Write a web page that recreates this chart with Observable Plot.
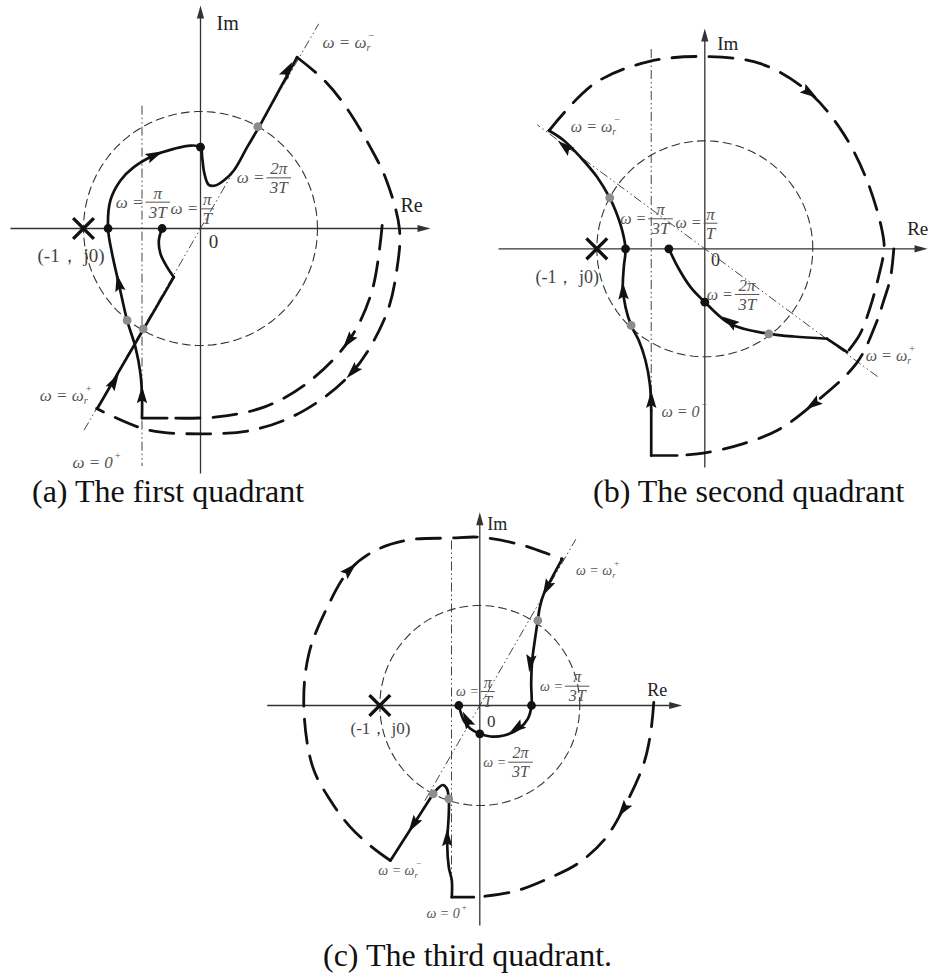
<!DOCTYPE html>
<html>
<head>
<meta charset="utf-8">
<script src="https://cdn.jsdelivr.net/npm/d3@7"></script>
<script src="https://cdn.jsdelivr.net/npm/@observablehq/plot@0.6"></script>
<style>
  body { margin: 0; background: #fff; }
  #fig { position: relative; width: 928px; height: 973px; background: #fff; overflow: hidden;
         font-family: "Liberation Serif", "Times New Roman", serif; }
  .panel { position: absolute; }
  .panel text { font-family: "Liberation Serif", "Times New Roman", serif; }
  .cap { position: absolute; font-size: 32px; line-height: 1; color: #111; white-space: nowrap; }
</style>
</head>
<body>
<div id="fig">
  <div class="cap" style="left:32px;top:475px">(a) The first quadrant</div>
  <div class="cap" style="left:593px;top:475px">(b) The second quadrant</div>
  <div class="cap" style="left:323px;top:939px">(c) The third quadrant.</div>
</div>
<script>
// ---------- (a) first quadrant: Nyquist branches in the complex plane [Re, Im] ----------
const aBranches = [
  [ // ω = 0⁺ → ω_r⁻
    [[-0.285, -1.62], [-0.5, -1.62]],
    [[-0.5, -1.62], [-0.5, -1.43], [-0.513, -1.242], [-0.556, -1.014], [-0.627, -0.786], [-0.698, -0.473],
     [-0.755, -0.217], [-0.79, 0], [-0.77, 0.24], [-0.684, 0.41], [-0.57, 0.524], [-0.4, 0.624],
     [-0.228, 0.681], [-0.085, 0.709], [0, 0.695], [0.014, 0.61], [0.034, 0.467], [0.071, 0.373],
     [0.128, 0.368], [0.199, 0.41], [0.285, 0.496], [0.399, 0.695], [0.5, 0.866]],
    [[0.5, 0.866], [0.826, 1.464]]
  ],
  [ // ω_r⁺ → π/T
    [[-0.883, -1.541], [-0.228, -0.416]],
    [[-0.228, -0.416], [-0.285, -0.33], [-0.342, -0.216], [-0.356, -0.103], [-0.328, 0]]
  ]
];
const aBlack = [[-0.79, 0], [-0.328, 0], [0, 0.695]];
const aGray = [[0.49, 0.87], [-0.627, -0.786], [-0.49, -0.858]];
// infinite-radius arcs as [angle°, radius] keypoints, traversed clockwise
const aResArc = [[60.6, 1.68], [50, 1.65], [40, 1.62], [25, 1.61], [15, 1.64], [0, 1.7], [-12, 1.715],
  [-25, 1.75], [-43, 1.786], [-60, 1.79], [-75, 1.78], [-90, 1.755], [-105, 1.78], [-120, 1.776]];
const aZeroArc = [[1, 1.553], [-20, 1.56], [-37, 1.589], [-55, 1.605], [-70, 1.62], [-85, 1.617], [-100, 1.645]];
const aArrows = [[-0.5, -1.43, 0], [-0.698, -0.473, -12], [-0.399, 0.624, 65], [0.741, 1.35, 30], [-0.741, -1.314, 30]];
const aArcArrows = [[-43, 1.786], [-37, 1.589]];
const aVertical = [-0.5, 1.05, -2.03];
const aDiagonal = [60, -1.99, 2.02];
const aReAxis = [-1.624, 1.966];
const aImAxis = [-2.094, 1.906];
const aOmega = [[1.419, 1.59, "ω = ω", "r", "−"], [-0.997, -1.427, "ω = ω", "r", "+"], [-0.749, -1.997, "ω = 0", "", "+"]];
const aFrac = [[-0.365, 0.225, "π", "3T"], [0.057, 0.168, "π", "T"], [0.669, 0.433, "2π", "3T"]];
const aAxisText = [[0.137, 1.752, "Im"], [1.709, 0.197, "Re"]];
const aOrigin = [[0.111, -0.111, "0"]];
const aCritical = [[-1.393, -0.231, "(-1， j0)"]];

// ---------- (b) second quadrant ----------
const bBranches = [
  [ // ω = 0⁻ → ω_r⁻
    [[-0.256, -1.914], [-0.496, -1.914]],
    [[-0.496, -1.914], [-0.496, -1.497]],
    [[-0.496, -1.497], [-0.509, -1.25], [-0.549, -1.034], [-0.611, -0.849], [-0.682, -0.71], [-0.734, -0.54],
     [-0.759, -0.355], [-0.75, -0.17], [-0.734, 0], [-0.765, 0.17], [-0.827, 0.355], [-0.88, 0.472],
     [-0.996, 0.663], [-1.151, 0.848], [-1.305, 1.003], [-1.444, 1.095]]
  ],
  [ // ω_r⁺ → π/T
    [[1.318, -0.957], [1.133, -0.833]],
    [[1.133, -0.833], [0.824, -0.812], [0.593, -0.787], [0.361, -0.741], [0.207, -0.679], [0, -0.494],
     [-0.132, -0.355], [-0.241, -0.185], [-0.333, 0]]
  ]
];
const bBlack = [[-0.734, 0], [-0.333, 0], [0, -0.494]];
const bGray = [[-0.88, 0.472], [-0.682, -0.71], [0.593, -0.787]];
const bResArc = [[142.8, 1.81], [124, 1.84], [107, 1.81], [90, 1.78], [73, 1.79], [56, 1.74], [40, 1.67],
  [23, 1.63], [6, 1.65], [0, 1.66], [-9, 1.63], [-20, 1.625], [-29, 1.64], [-36, 1.63]];
const bZeroArc = [[0, 1.75], [-9, 1.74], [-16, 1.725], [-24, 1.73], [-37, 1.76], [-55, 1.754], [-68, 1.81],
  [-79, 1.84], [-90, 1.89], [-97.6, 1.93]];
const bArrows = [[-0.496, -1.405, 0], [-0.756, -0.401, -3], [-1.29, 0.94, -50], [0.238, -0.679, -56]];
const bArcArrows = [[56.4, 1.74], [-54.9, 1.754]];
const bVertical = [-0.496, 1.85, -1.94];
const bDiagonal = [143.5, -1.99, 1.93];
const bReAxis = [-1.91, 2.062];
const bImAxis = [-2.025, 2.04];
const bOmega = [[-0.857, 1.126, "ω = ω", "r", "−"], [1.874, -0.988, "ω = ω", "r", "+"], [-0.049, -1.513, "ω = 0", "", "−"]];
const bFrac = [[-0.41, 0.278, "π", "3T"], [0.053, 0.237, "π", "T"], [0.392, -0.423, "2π", "3T"]];
const bAxisText = [[0.115, 1.9, "Im"], [1.874, 0.188, "Re"]];
const bOrigin = [[0.099, -0.108, "0"]];
const bCritical = [[-1.568, -0.263, "(-1， j0)"]];

// ---------- (c) third quadrant ----------
const cBranches = [
  [ // ω_r⁺ → π/T
    [[0.824, 1.467], [0.707, 1.25], [0.64, 1.117], [0.6, 0.983], [0.58, 0.85], [0.55, 0.65], [0.524, 0.45],
     [0.514, 0.217], [0.517, 0], [0.48, -0.133], [0.39, -0.233], [0.24, -0.3], [0.107, -0.31], [0, -0.283],
     [-0.093, -0.233], [-0.16, -0.15], [-0.21, 0]]
  ],
  [ // ω = 0⁺ → ω_r⁻
    [[-0.06, -1.917], [-0.28, -1.917]],
    [[-0.28, -1.917], [-0.28, -1.75], [-0.31, -1.617], [-0.326, -1.383], [-0.31, -1.083], [-0.31, -0.933],
     [-0.33, -0.83], [-0.37, -0.795], [-0.42, -0.83], [-0.466, -0.883]],
    [[-0.466, -0.883], [-0.893, -1.55]]
  ]
];
const cBlack = [[0.517, 0], [0, -0.283], [-0.21, 0]];
const cGray = [[0.58, 0.85], [-0.31, -0.933], [-0.466, -0.883]];
const cResArc = [[240, 1.79], [233, 1.78], [223, 1.776], [212, 1.77], [200, 1.78], [180, 1.76], [163, 1.786],
  [147, 1.815], [134, 1.88], [124, 1.87], [113, 1.8], [100, 1.7], [90, 1.683], [77, 1.66], [67, 1.66], [60.7, 1.68]];
const cZeroArc = [[1, 1.74], [-9, 1.73], [-20, 1.74], [-36, 1.77], [-47, 1.83], [-58, 1.86], [-68, 1.86],
  [-79, 1.89], [-89, 1.91], [-91.8, 1.918]];
const cArrows = [[0.674, 1.183, -153], [0.507, 0.433, -173], [0.374, -0.223, -125], [-0.126, -0.15, -27],
  [-0.326, -1.333, 0], [-0.659, -1.183, -147]];
const cArcArrows = [[134, 1.88], [-35.7, 1.772]];
const cVertical = [-0.283, 1.65, -1.92];
const cDiagonal = [60, -1.1, 1.92];
const cReAxis = [-2.126, 2.024];
const cImAxis = [-2.2, 1.933];
const cOmega = [[1.324, 1.35, "ω = ω", "r", "+"], [-0.653, -1.65, "ω = ω", "r", "−"], [-0.2, -2.083, "ω = 0", "", "+"]];
const cFrac = [[0.08, 0.14, "π", "T"], [0.974, 0.193, "π", "3T"], [0.407, -0.567, "2π", "3T"]];
const cAxisText = [[0.074, 1.817, "Im"], [1.674, 0.15, "Re"]];
const cOrigin = [[0.115, -0.16, "0"]];
const cCritical = [[-1.293, -0.233, "(-1， j0)"]];

// ---------- drawing ----------
const SERIF = '"Liberation Serif", "Times New Roman", serif';
const rad = deg => deg * Math.PI / 180;
const polar = ([deg, r]) => [r * Math.cos(rad(deg)), r * Math.sin(rad(deg))];
const unitCircle = d3.range(0, 361, 4).map(deg => polar([deg, 1]));

// filled arrowhead pointing up, centred on the curve point
const headShape = {
  draw(ctx) { ctx.moveTo(0, -10); ctx.lineTo(5.2, 7.5); ctx.lineTo(0, 4.5); ctx.lineTo(-5.2, 7.5); ctx.closePath(); }
};
// axis arrowhead with its tip at the anchor
const axisHeadShape = {
  draw(ctx) { ctx.moveTo(0, 0); ctx.lineTo(3.6, 13); ctx.lineTo(-3.6, 13); ctx.closePath(); }
};

function panel(f, d) {
  const xd = [-f.ox / f.s, (f.w - f.ox) / f.s];
  const yd = [(f.oy - f.h) / f.s, f.oy / f.s];
  const X = p => p[0], Y = p => p[1];

  const branchPts = d.branches.flat().flatMap((piece, i) => piece.map(([x, y]) => ({x, y, z: i})));
  const arcPts = [d.resArc, d.zeroArc].flatMap((arc, i) => arc.map(k => {
    const [x, y] = polar(k); return {x, y, z: i};
  }));
  const arrows = d.arrows.concat(d.arcArrows.map(([deg, r]) => [...polar([deg, r]), -180 - deg]));
  const [dA, dB] = [polar([d.diagonal[0], d.diagonal[1]]), polar([d.diagonal[0], d.diagonal[2]])];
  const guides = [
    {x1: d.vertical[0], y1: d.vertical[1], x2: d.vertical[0], y2: d.vertical[2]},
    {x1: dA[0], y1: dA[1], x2: dB[0], y2: dB[1]}
  ];
  const axes = [
    {x1: d.reAxis[0], y1: 0, x2: d.reAxis[1] - 10 / f.s, y2: 0},
    {x1: 0, y1: d.imAxis[0], x2: 0, y2: d.imAxis[1] - 10 / f.s}
  ];
  const axisHeads = [[d.reAxis[1], 0, 90], [0, d.imAxis[1], 0]];
  const hw = fr => (Math.max(fr[2].length, fr[3].length) * 5.4 + 1.5) / f.s;

  const plot = Plot.plot({
    width: f.w, height: f.h, margin: 0,
    x: {domain: xd, axis: null},
    y: {domain: yd, axis: null},
    style: {background: "transparent", overflow: "visible", fontFamily: SERIF},
    marks: [
      Plot.line(unitCircle, {x: X, y: Y, stroke: "#333", strokeWidth: 1.1, strokeDasharray: "8,5"}),
      Plot.link(guides, {x1: "x1", y1: "y1", x2: "x2", y2: "y2", stroke: "#444", strokeWidth: 1,
        strokeDasharray: "9,3,1.5,3,1.5,3"}),
      Plot.link(axes, {x1: "x1", y1: "y1", x2: "x2", y2: "y2", stroke: "#333", strokeWidth: 1.3}),
      Plot.dot(axisHeads, {x: X, y: Y, rotate: p => p[2], symbol: axisHeadShape, r: 5, fill: "#333", stroke: "none"}),
      Plot.line(arcPts, {x: "x", y: "y", z: "z", curve: "catmull-rom", stroke: "#111", strokeWidth: 2.8,
        strokeDasharray: "24,13"}),
      Plot.line(branchPts, {x: "x", y: "y", z: "z", curve: "catmull-rom", stroke: "#111", strokeWidth: 2.7,
        strokeLinecap: "round", strokeLinejoin: "round"}),
      Plot.dot(d.black, {x: X, y: Y, r: 4.4, fill: "#111", stroke: "none"}),
      Plot.dot(d.gray, {x: X, y: Y, r: 4.4, fill: "#8c8c8c", stroke: "none"}),
      Plot.dot([[-1, 0]], {x: X, y: Y, symbol: "times", r: 9.5, stroke: "#111", strokeWidth: 3.4}),
      Plot.dot(arrows, {x: X, y: Y, rotate: p => p[2], symbol: headShape, r: 5, fill: "#111", stroke: "none"}),
      // axis names, origin and critical point
      Plot.text(d.axisText, {x: X, y: Y, text: p => p[2], textAnchor: "start", fontSize: f.axis,
        fontFamily: SERIF, fill: "#222"}),
      Plot.text(d.origin, {x: X, y: Y, text: p => p[2], fontSize: f.axis - 1, fontFamily: SERIF, fill: "#333"}),
      Plot.text(d.critical, {x: X, y: Y, text: p => p[2], textAnchor: "start", fontSize: f.axis - 1,
        fontFamily: SERIF, fill: "#444"}),
      // ω = ω_r± and ω = 0± labels
      Plot.text(d.omega, {x: X, y: Y, text: p => p[2], textAnchor: "end", fontSize: f.label,
        fontFamily: SERIF, fontStyle: "italic", fill: "#555"}),
      Plot.text(d.omega, {x: X, y: Y, text: p => p[3], textAnchor: "start", dx: 0, dy: 5, fontSize: f.label * 0.6,
        fontFamily: SERIF, fontStyle: "italic", fill: "#555"}),
      Plot.text(d.omega, {x: X, y: Y, text: p => p[4], textAnchor: "start", dx: 2, dy: -7, fontSize: f.label * 0.62,
        fontFamily: SERIF, fill: "#555"}),
      // ω = fraction labels
      Plot.text(d.frac, {x: p => p[0] - hw(p), y: Y, text: () => "ω =", textAnchor: "end", dx: -2,
        fontSize: f.label, fontFamily: SERIF, fontStyle: "italic", fill: "#555"}),
      Plot.text(d.frac, {x: X, y: Y, text: p => p[2], dy: -9, fontSize: f.frac,
        fontFamily: SERIF, fontStyle: "italic", fill: "#555"}),
      Plot.link(d.frac, {x1: p => p[0] - hw(p), x2: p => p[0] + hw(p), y1: Y, y2: Y, stroke: "#555", strokeWidth: 1}),
      Plot.text(d.frac, {x: X, y: Y, text: p => p[3], dy: 10, fontSize: f.frac,
        fontFamily: SERIF, fontStyle: "italic", fill: "#555"})
    ]
  });
  plot.classList.add("panel");
  plot.style.left = f.left + "px";
  plot.style.top = f.top + "px";
  document.getElementById("fig").appendChild(plot);
}

panel({left: 0, top: 0, w: 460, h: 480, ox: 200, oy: 228, s: 117, label: 17, frac: 17, axis: 20}, {
  branches: aBranches, black: aBlack, gray: aGray, resArc: aResArc, zeroArc: aZeroArc, arrows: aArrows,
  arcArrows: aArcArrows, vertical: aVertical, diagonal: aDiagonal, reAxis: aReAxis, imAxis: aImAxis,
  omega: aOmega, frac: aFrac, axisText: aAxisText, origin: aOrigin, critical: aCritical
});
panel({left: 460, top: 0, w: 468, h: 480, ox: 244.3, oy: 248.3, s: 108, label: 16, frac: 17, axis: 19}, {
  branches: bBranches, black: bBlack, gray: bGray, resArc: bResArc, zeroArc: bZeroArc, arrows: bArrows,
  arcArrows: bArcArrows, vertical: bVertical, diagonal: bDiagonal, reAxis: bReAxis, imAxis: bImAxis,
  omega: bOmega, frac: bFrac, axisText: bAxisText, origin: bOrigin, critical: bCritical
});
panel({left: 250, top: 480, w: 450, h: 460, ox: 229.3, oy: 225, s: 100, label: 14, frac: 16, axis: 18}, {
  branches: cBranches, black: cBlack, gray: cGray, resArc: cResArc, zeroArc: cZeroArc, arrows: cArrows,
  arcArrows: cArcArrows, vertical: cVertical, diagonal: cDiagonal, reAxis: cReAxis, imAxis: cImAxis,
  omega: cOmega, frac: cFrac, axisText: cAxisText, origin: cOrigin, critical: cCritical
});
</script>
</body>
</html>
